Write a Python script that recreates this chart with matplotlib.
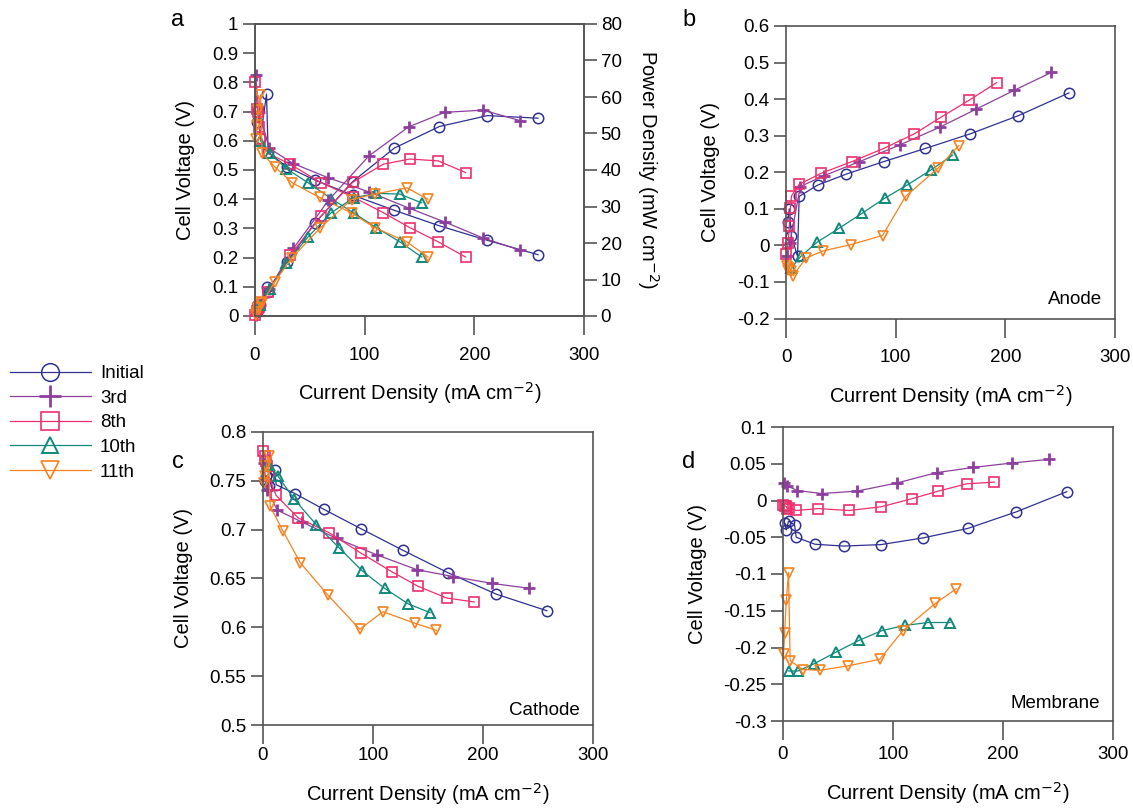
import matplotlib
matplotlib.use("Agg")
import matplotlib.pyplot as plt
import numpy as np

plt.rcParams['font.family'] = ['Liberation Sans', 'DejaVu Sans']

# ---------------- data ----------------
series_names = ["Initial", "3rd", "8th", "10th", "11th"]

# current density (mA cm-2)
I_init = [1.5, 3, 5, 10.5, 12, 29, 55, 89, 127, 168, 212, 258]
I_3rd = [0.5, 3.5, 13, 35, 67, 104, 140, 173, 208, 242]
I_8th = [0.3, 2, 3, 4, 5, 12, 32, 60, 89, 117, 141, 167, 192]
I_10th = [5, 13.5, 28.5, 48.5, 69.5, 90, 110.5, 132, 152]
I_11th = [0.5, 1.5, 3, 5, 6.5, 18, 34, 59, 88, 109, 138.5, 157.6]

# panel a: cell voltage (V)
cell_init = [0.665, 0.71, 0.61, 0.76, 0.56, 0.511, 0.465, 0.414, 0.362, 0.309, 0.259, 0.210]
cell_3rd = [0.825, 0.70, 0.574, 0.522, 0.473, 0.425, 0.370, 0.322, 0.267, 0.225]
cell_8th = [0.802, 0.709, 0.70, 0.648, 0.605, 0.557, 0.52, 0.457, 0.408, 0.354, 0.303, 0.254, 0.202]
cell_10th = [0.60, 0.557, 0.505, 0.456, 0.402, 0.353, 0.303, 0.254, 0.202]
cell_11th = [0.605, 0.654, 0.705, 0.757, 0.557, 0.511, 0.456, 0.406, 0.353, 0.303, 0.254, 0.202]

# panel a: power density (mW cm-2)
pow_init = [1.0, 2.1, 3.1, 8.0, 6.7, 14.8, 25.6, 36.8, 46.0, 51.9, 54.9, 54.2]
pow_3rd = [0.4, 2.5, 7.5, 18.5, 31.7, 43.9, 51.8, 55.8, 56.4, 53.5]
pow_8th = [0.2, 1.4, 2.1, 2.6, 3.0, 6.6, 16.6, 27.3, 36.6, 41.6, 43.0, 42.5, 39.3]
pow_10th = [3.0, 7.5, 14.5, 21.7, 28.3, 32.4, 33.6, 33.4, 31.0]
pow_11th = [0.3, 1.0, 2.1, 3.8, 3.6, 9.4, 16.0, 24.0, 31.9, 33.4, 35.1, 32.0]

# panel b: anode (V)
an_init = [0.065, 0.10, 0.025, -0.03, 0.134, 0.165, 0.195, 0.229, 0.265, 0.305, 0.355, 0.417]
an_3rd = [-0.028, 0.006, 0.161, 0.191, 0.229, 0.275, 0.323, 0.372, 0.424, 0.473]
an_8th = [-0.023, 0.006, 0.052, 0.102, 0.135, 0.167, 0.197, 0.229, 0.265, 0.305, 0.35, 0.397, 0.445]
an_10th = [-0.062, -0.03, 0.009, 0.047, 0.088, 0.129, 0.165, 0.206, 0.247]
an_11th = [-0.057, -0.068, -0.062, -0.070, -0.083, -0.035, -0.015, 0.002, 0.027, 0.134, 0.211, 0.273]

# panel c: cathode (V)
ca_init = [0.75, 0.755, 0.745, 0.761, 0.746, 0.737, 0.721, 0.701, 0.679, 0.656, 0.634, 0.617]
ca_3rd = [0.768, 0.741, 0.720, 0.708, 0.691, 0.674, 0.659, 0.652, 0.645, 0.640]
ca_8th = [0.781, 0.775, 0.77, 0.765, 0.755, 0.735, 0.712, 0.697, 0.676, 0.657, 0.642, 0.630, 0.626]
ca_10th = [0.766, 0.755, 0.731, 0.705, 0.681, 0.658, 0.640, 0.624, 0.615]
ca_11th = [0.748, 0.755, 0.765, 0.775, 0.724, 0.699, 0.666, 0.633, 0.598, 0.616, 0.604, 0.597]

# panel d: membrane (V)
me_init = [-0.031, -0.04, -0.028, -0.033, -0.05, -0.0595, -0.062, -0.06, -0.051, -0.038, -0.0155, 0.012]
me_3rd = [0.024, 0.020, 0.0136, 0.0095, 0.0127, 0.024, 0.038, 0.045, 0.051, 0.056]
me_8th = [-0.0055, -0.0077, -0.008, -0.012, -0.010, -0.0136, -0.011, -0.0136, -0.0086, 0.0023, 0.0127, 0.0227, 0.025]
me_10th = [-0.232, -0.232, -0.222, -0.206, -0.190, -0.177, -0.170, -0.166, -0.166]
me_11th = [-0.209, -0.18, -0.136, -0.098, -0.218, -0.23, -0.231, -0.225, -0.216, -0.177, -0.14, -0.12]

x_ticks = [0, 100, 200, 300]

# ---------------- styles ----------------
colors = ["#2E3192", "#8E3F9E", "#EE2F6C", "#10897C", "#F7821F"]
markers = ["o", "+", "s", "^", "v"]
msizes = [7.5, 9, 7.5, 6.5, 7.5]
mews = [1.1, 2.0, 1.2, 1.4, 1.2]

currents = [I_init, I_3rd, I_8th, I_10th, I_11th]
cells = [cell_init, cell_3rd, cell_8th, cell_10th, cell_11th]
powers = [pow_init, pow_3rd, pow_8th, pow_10th, pow_11th]
anodes = [an_init, an_3rd, an_8th, an_10th, an_11th]
cathodes = [ca_init, ca_3rd, ca_8th, ca_10th, ca_11th]
membranes = [me_init, me_3rd, me_8th, me_10th, me_11th]

W, H = 1133, 808
fig = plt.figure(figsize=(W / 100, H / 100), dpi=100)

def ax_rect(l, t, r, b):
    return [l / W, 1 - b / H, (r - l) / W, (b - t) / H]

ax_a = fig.add_axes(ax_rect(255, 24, 584, 316))
ax_b = fig.add_axes(ax_rect(786, 26, 1115, 318.5))
ax_c = fig.add_axes(ax_rect(263, 432, 593, 725))
ax_d = fig.add_axes(ax_rect(783, 427, 1113, 721))
ax_p = ax_a.twinx()

spine_col = "#555555"
TICK_FS = 13.5
LAB_FS = 14.5
XLABEL = "Current Density (mA cm$^{-2}$)"

def fmt(v):
    s = "{:g}".format(round(v, 4))
    if s == "-0":
        s = "0"
    return s

def style(ax, yticks, xpad=8, xlabelpad=12):
    for s in ax.spines.values():
        s.set_color(spine_col)
        s.set_linewidth(1.2)
    ax.set_xlim(0, 300)
    ax.set_xticks(x_ticks)
    ax.set_xticklabels([fmt(v) for v in x_ticks])
    ax.set_yticks(yticks)
    ax.set_yticklabels([fmt(v) for v in yticks])
    ax.set_ylim(yticks[0], yticks[-1])
    ax.tick_params(axis='x', direction='out', length=14, width=1.2, color=spine_col,
                   labelsize=TICK_FS, pad=xpad, top=False)
    ax.tick_params(axis='y', direction='out', length=9, width=1.2, color=spine_col,
                   labelsize=TICK_FS, pad=3, right=False)
    ax.set_xlabel(XLABEL, fontsize=LAB_FS, labelpad=xlabelpad)
    ax.set_ylabel("Cell Voltage (V)", fontsize=LAB_FS, labelpad=12)

def plot_series(ax, xs_list, ys_list, labels=True):
    handles = []
    for i in range(5):
        h, = ax.plot(xs_list[i], ys_list[i], color=colors[i], marker=markers[i],
                     markersize=msizes[i], markerfacecolor='none', markeredgewidth=mews[i],
                     linewidth=0.9, clip_on=False, label=series_names[i] if labels else None)
        handles.append(h)
    return handles

# panel a
style(ax_a, list(np.round(np.arange(0, 1.01, 0.1), 2)))
handles = plot_series(ax_a, currents, cells)
plot_series(ax_p, currents, powers, labels=False)
p_ticks = list(range(0, 81, 10))
ax_p.set_ylim(0, 80)
ax_p.set_yticks(p_ticks)
ax_p.set_yticklabels([str(v) for v in p_ticks])
ax_p.tick_params(axis='y', direction='out', length=9, width=1.2, color=spine_col,
                 labelsize=TICK_FS, pad=3)
for s in ax_p.spines.values():
    s.set_color(spine_col)
    s.set_linewidth(1.2)
ax_p.set_ylabel("Power Density (mW cm$^{-2}$)", fontsize=LAB_FS, rotation=270, labelpad=28)

# panel b
style(ax_b, list(np.round(np.arange(-0.2, 0.61, 0.1), 2)))
plot_series(ax_b, currents, anodes, labels=False)
ax_b.text(0.96, 0.035, "Anode", transform=ax_b.transAxes, ha='right', va='bottom', fontsize=13.5)

# panel c
style(ax_c, list(np.round(np.arange(0.5, 0.801, 0.05), 2)), xpad=2, xlabelpad=12)
plot_series(ax_c, currents, cathodes, labels=False)
ax_c.text(0.96, 0.02, "Cathode", transform=ax_c.transAxes, ha='right', va='bottom', fontsize=13.5)

# panel d
style(ax_d, list(np.round(np.arange(-0.3, 0.101, 0.05), 2)), xpad=4, xlabelpad=12)
plot_series(ax_d, currents, membranes, labels=False)
ax_d.text(0.96, 0.03, "Membrane", transform=ax_d.transAxes, ha='right', va='bottom', fontsize=13.5)

# panel letters
for txt, (x, y) in zip("abcd", [(178, 20), (689, 20), (178, 462), (689, 462)]):
    fig.text(x / W, 1 - y / H, txt, fontsize=17, ha='center', va='center')

fig.legend(handles=handles, loc='upper left', bbox_to_anchor=(10 / W, 1 - 365 / H),
           frameon=False, fontsize=13.5, handlelength=4.3, handletextpad=0.5,
           labelspacing=0.4, borderpad=0, borderaxespad=0, markerscale=1.7, numpoints=1)

fig.savefig("out.png", dpi=100)
